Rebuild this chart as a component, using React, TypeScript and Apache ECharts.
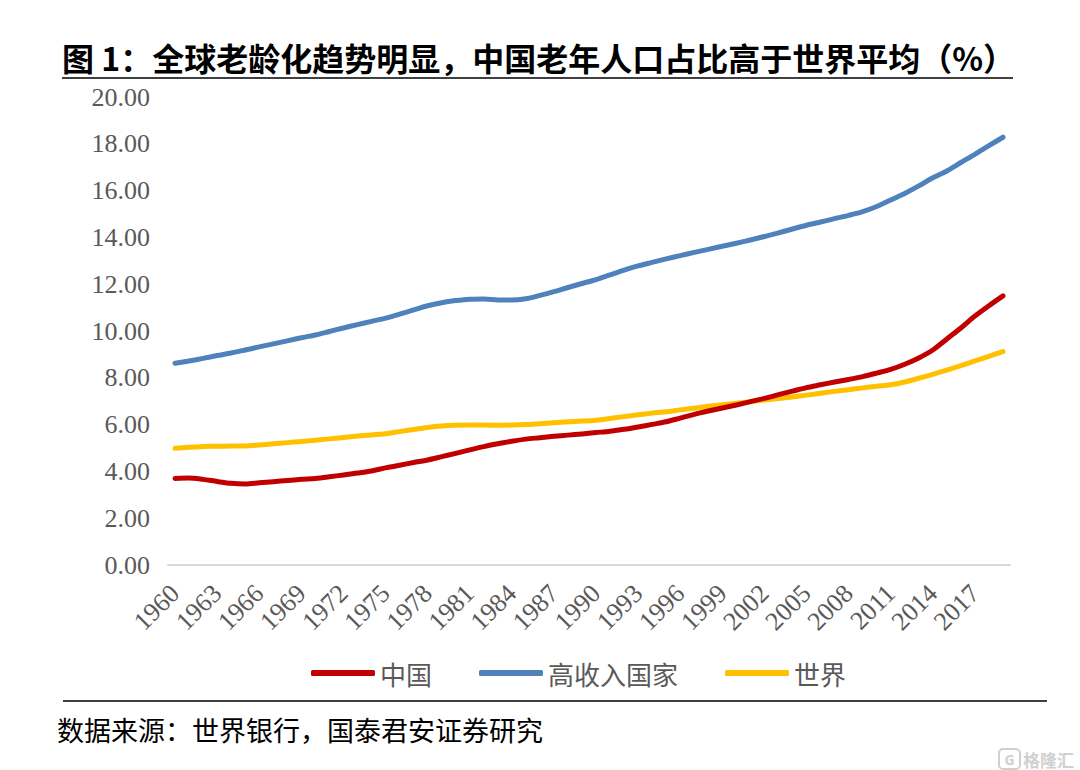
import React, { useEffect, useRef } from "react";
import * as echarts from "echarts";

const years: string[] = Array.from({ length: 60 }, (_, i) => String(1960 + i));

const china = [
  3.70, 3.72, 3.66, 3.57, 3.49, 3.46, 3.51, 3.56, 3.61, 3.66,
  3.70, 3.77, 3.85, 3.93, 4.02, 4.15, 4.26, 4.38, 4.49, 4.63,
  4.77, 4.92, 5.06, 5.18, 5.29, 5.38, 5.44, 5.50, 5.55, 5.60,
  5.66, 5.72, 5.80, 5.90, 6.01, 6.12, 6.28, 6.44, 6.58, 6.71,
  6.84, 6.98, 7.12, 7.28, 7.43, 7.58, 7.70, 7.82, 7.93, 8.05,
  8.20, 8.36, 8.58, 8.85, 9.19, 9.66, 10.13, 10.64, 11.08, 11.50,
];

const highIncome = [
  8.62, 8.72, 8.83, 8.95, 9.06, 9.19, 9.32, 9.45, 9.58, 9.71,
  9.83, 9.98, 10.13, 10.27, 10.41, 10.55, 10.72, 10.90, 11.08, 11.21,
  11.30, 11.36, 11.37, 11.33, 11.32, 11.38, 11.52, 11.68, 11.86, 12.03,
  12.20, 12.40, 12.60, 12.78, 12.93, 13.08, 13.22, 13.36, 13.49, 13.62,
  13.75, 13.89, 14.04, 14.19, 14.36, 14.52, 14.66, 14.80, 14.94, 15.10,
  15.32, 15.60, 15.88, 16.20, 16.55, 16.84, 17.20, 17.55, 17.92, 18.28,
];

const world = [
  4.99, 5.03, 5.06, 5.08, 5.09, 5.09, 5.13, 5.18, 5.23, 5.28,
  5.33, 5.39, 5.45, 5.51, 5.56, 5.61, 5.70, 5.79, 5.88, 5.94,
  5.97, 5.98, 5.98, 5.97, 5.98, 6.00, 6.04, 6.08, 6.12, 6.15,
  6.19, 6.26, 6.34, 6.42, 6.49, 6.55, 6.63, 6.70, 6.78, 6.85,
  6.91, 6.98, 7.05, 7.11, 7.18, 7.26, 7.34, 7.42, 7.49, 7.57,
  7.64, 7.70, 7.82, 7.98, 8.15, 8.33, 8.52, 8.72, 8.92, 9.12,
];

const seriesNames = ["中国", "高收入国家", "世界"];
const seriesColors = ["#C00000", "#4F81BD", "#FFC000"];

const titleText = "图 1：全球老龄化趋势明显，中国老年人口占比高于世界平均（%）";
const sourceText = "数据来源：世界银行，国泰君安证券研究";

export default function App() {
  const ref = useRef<HTMLDivElement>(null);

  useEffect(() => {
    document.body.style.margin = "0";
    const chart = echarts.init(ref.current!, null, { renderer: "svg" });
    const values = [china, highIncome, world];
    chart.setOption({
      animation: false,
      backgroundColor: "#ffffff",
      grid: { left: 168, right: 70, top: 97, bottom: 205, containLabel: false },
      legend: {
        left: 306,
        top: 655,
        itemWidth: 64,
        itemHeight: 6,
        itemGap: 47,
        icon: "roundRect",
        textStyle: {
          fontFamily: "Noto Sans CJK SC",
          fontSize: 26,
          color: "#595959",
        },
        data: seriesNames,
      },
      xAxis: {
        type: "category",
        data: years,
        boundaryGap: true,
        axisLine: { show: true, lineStyle: { color: "#d9d9d9", width: 2 } },
        axisTick: { show: false },
        splitLine: { show: false },
        axisLabel: {
          interval: 2,
          rotate: 45,
          margin: 24,
          fontFamily: "Liberation Serif",
          fontSize: 26,
          color: "#595959",
        },
      },
      yAxis: {
        type: "value",
        min: 0,
        max: 20,
        interval: 2,
        axisLine: { show: false },
        axisTick: { show: false },
        splitLine: { show: false },
        axisLabel: {
          margin: 18,
          fontFamily: "Liberation Serif",
          fontSize: 26,
          color: "#595959",
          formatter: (v: number) => v.toFixed(2),
        },
      },
      series: seriesNames.map((name, i) => ({
        name,
        type: "line",
        data: values[i],
        smooth: 0.3,
        showSymbol: false,
        symbol: "none",
        color: seriesColors[i],
        lineStyle: { width: 5, color: seriesColors[i], cap: "round", join: "round" },
        z: i === 0 ? 5 : 3,
      })),
      graphic: [
        {
          type: "text",
          x: 62,
          y: 57,
          style: {
            text: titleText,
            font: "bold 32px 'Noto Sans CJK SC'",
            fill: "#000000",
            verticalAlign: "middle",
          },
        },
        {
          type: "line",
          shape: { x1: 62, y1: 78, x2: 1013, y2: 78 },
          style: { stroke: "#404040", lineWidth: 2 },
        },
        {
          type: "line",
          shape: { x1: 63, y1: 701, x2: 1047, y2: 701 },
          style: { stroke: "#000000", lineWidth: 1.5 },
        },
        {
          type: "text",
          x: 57,
          y: 729,
          style: {
            text: sourceText,
            font: "27px 'Noto Sans CJK SC'",
            fill: "#000000",
            verticalAlign: "middle",
          },
        },
        {
          type: "rect",
          shape: { x: 999, y: 749, width: 21, height: 20, r: 4 },
          style: { fill: "none", stroke: "#d0d0d0", lineWidth: 2 },
        },
        {
          type: "text",
          x: 1009.5,
          y: 759,
          style: {
            text: "G",
            font: "bold 14px 'Noto Sans'",
            fill: "#d0d0d0",
            align: "center",
            verticalAlign: "middle",
          },
        },
        {
          type: "text",
          x: 1023,
          y: 759,
          style: {
            text: "格隆汇",
            font: "bold 17px 'Noto Sans CJK SC'",
            fill: "#d0d0d0",
            verticalAlign: "middle",
          },
        },
      ],
    });
    return () => chart.dispose();
  }, []);

  return <div ref={ref} style={{ width: 1080, height: 770 }} />;
}
